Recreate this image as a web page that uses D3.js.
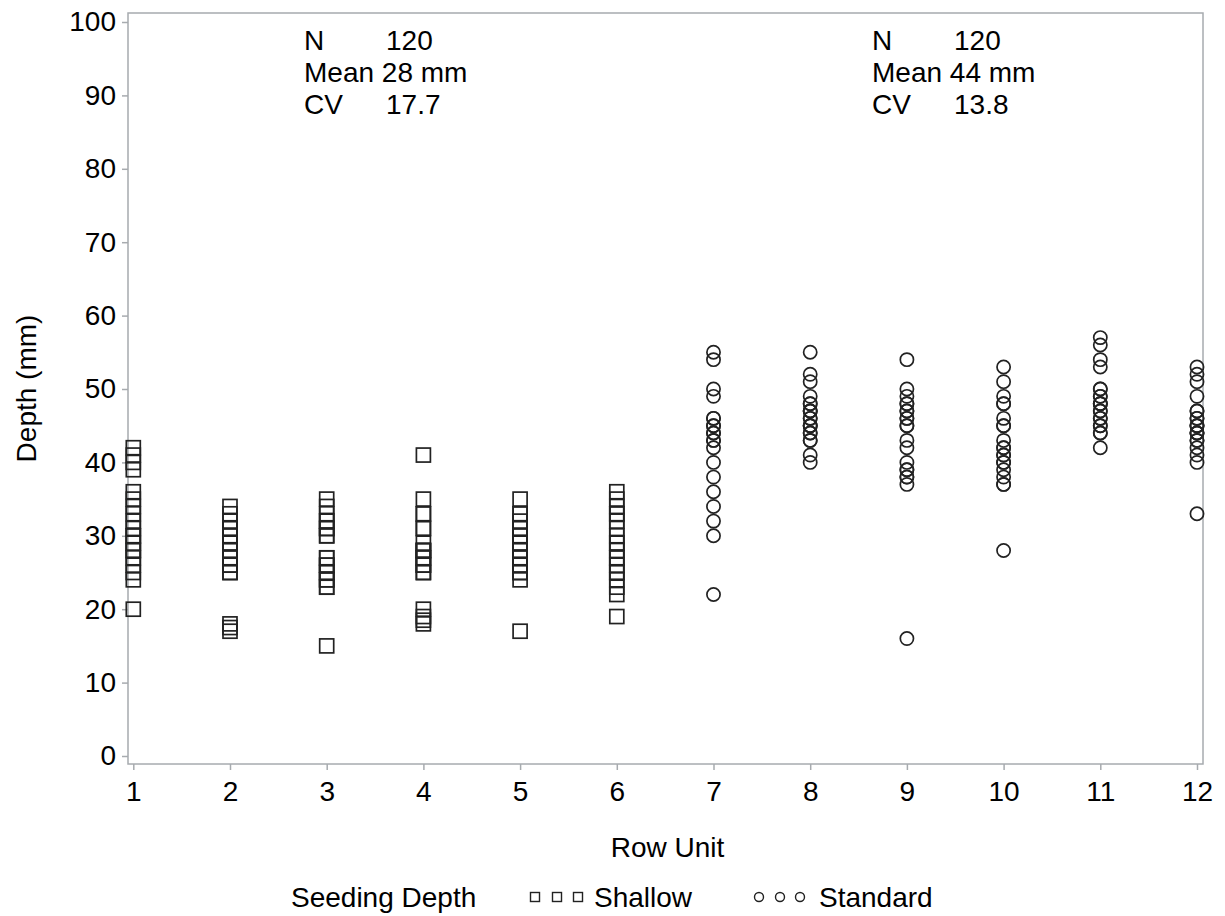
<!DOCTYPE html>
<html>
<head>
<meta charset="utf-8">
<script src="https://cdn.jsdelivr.net/npm/d3@7"></script>
<style>
  html, body { margin: 0; padding: 0; background: #fff; }
  svg { display: block; font-family: "Liberation Sans", Arial, sans-serif; }
</style>
</head>
<body>
<svg id="chart" width="1225" height="916"></svg>
<script>
// Row units on the planter
const rowUnits = [1, 2, 3, 4, 5, 6, 7, 8, 9, 10, 11, 12];
const yTicks = [0, 10, 20, 30, 40, 50, 60, 70, 80, 90, 100];

// Shallow seeding depth (rows 1-6), mm
const shallowRow1 = [42, 41, 40, 39, 36, 35, 34, 33, 32, 31, 30, 30, 29, 28, 28, 27, 26, 25, 24, 20];
const shallowRow2 = [34, 33, 32, 31, 31, 30, 30, 29, 29, 28, 28, 27, 27, 26, 26, 25, 25, 18, 17.5, 17];
const shallowRow3 = [35, 34, 33, 32, 32, 31, 31, 30, 30, 27, 26, 26, 25, 25, 24, 24, 23, 23, 27, 15];
const shallowRow4 = [41, 35, 33, 33, 31, 31, 29, 28, 28, 27, 27, 26, 26, 25, 25, 20, 19, 18.5, 18, 28];
const shallowRow5 = [35, 33, 33, 32, 31, 31, 30, 30, 29, 28, 28, 27, 27, 26, 26, 25, 25, 24, 17, 29];
const shallowRow6 = [36, 35, 34, 33, 33, 32, 31, 30, 29, 29, 28, 27, 27, 26, 25, 25, 24, 23, 22, 19];

// Standard seeding depth (rows 7-12), mm
const standardRow7 = [55, 54, 50, 49, 46, 46, 45, 45, 44, 44, 43, 43, 42, 40, 38, 36, 34, 32, 30, 22];
const standardRow8 = [55, 52, 51, 49, 48, 48, 47, 47, 46, 46, 45, 45, 45, 44, 44, 43, 43, 41, 40, 47];
const standardRow9 = [54, 50, 49, 48, 48, 47, 47, 46, 46, 45, 45, 43, 42, 40, 39, 39, 38, 38, 37, 16];
const standardRow10 = [53, 51, 49, 48, 48, 46, 45, 45, 43, 42, 42, 41, 41, 40, 40, 39, 38, 37, 37, 28];
const standardRow11 = [57, 56, 54, 53, 50, 50, 49, 49, 48, 48, 47, 47, 46, 46, 45, 45, 44, 44, 42, 48];
const standardRow12 = [53, 52, 51, 49, 47, 47, 46, 46, 45, 45, 45, 44, 44, 43, 43, 42, 41, 40, 33, 44];

// Summary statistics per seeding depth
const statLabels = ["N", "Mean", "CV"];
const shallowStats = ["120", "28 mm", "17.7"];
const standardStats = ["120", "44 mm", "13.8"];

const shallowRows = [shallowRow1, shallowRow2, shallowRow3, shallowRow4, shallowRow5, shallowRow6];
const standardRows = [standardRow7, standardRow8, standardRow9, standardRow10, standardRow11, standardRow12];

const shallowPts = [];
shallowRows.forEach((vals, i) => vals.forEach(v => shallowPts.push({ row: rowUnits[i], depth: v })));
const standardPts = [];
standardRows.forEach((vals, i) => vals.forEach(v => standardPts.push({ row: rowUnits[i + 6], depth: v })));

const svg = d3.select("#chart");
const frame = { left: 128, right: 1203, top: 13, bottom: 764 };
const axisColor = "#a7abaf";
const markColor = "#222";
const fontSize = 28;

const x = d3.scaleLinear().domain([1, 12]).range([133.3, 1197]);
const y = d3.scaleLinear().domain([0, 100]).range([756, 22]);

// Plot frame
svg.append("rect")
  .attr("x", frame.left).attr("y", frame.top)
  .attr("width", frame.right - frame.left).attr("height", frame.bottom - frame.top)
  .attr("fill", "none").attr("stroke", axisColor).attr("stroke-width", 1.5);

// Y axis
const yAxis = svg.append("g")
  .attr("transform", `translate(${frame.left},0)`)
  .call(d3.axisLeft(y).tickValues(yTicks).tickSize(6).tickPadding(6).tickSizeOuter(0));
yAxis.select(".domain").remove();
yAxis.selectAll(".tick line").attr("stroke", axisColor).attr("stroke-width", 1.5);
yAxis.selectAll(".tick text").attr("fill", "#000").attr("font-size", fontSize)
  .attr("font-family", "Liberation Sans, Arial, sans-serif");

// X axis
const xAxis = svg.append("g")
  .attr("transform", `translate(0,${frame.bottom})`)
  .call(d3.axisBottom(x).tickValues(rowUnits).tickFormat(d3.format("d")).tickSize(6).tickPadding(11).tickSizeOuter(0));
xAxis.select(".domain").remove();
xAxis.selectAll(".tick line").attr("stroke", axisColor).attr("stroke-width", 1.5);
xAxis.selectAll(".tick text").attr("fill", "#000").attr("font-size", fontSize)
  .attr("font-family", "Liberation Sans, Arial, sans-serif");

// Axis titles
svg.append("text")
  .attr("x", (frame.left + frame.right) / 2 + 2).attr("y", 857)
  .attr("text-anchor", "middle").attr("font-size", fontSize).text("Row Unit");
svg.append("text")
  .attr("transform", `translate(36,${(frame.top + frame.bottom) / 2}) rotate(-90)`)
  .attr("text-anchor", "middle").attr("font-size", fontSize).text("Depth (mm)");

// Shallow: open squares
const sq = 14;
svg.append("g").selectAll("rect").data(shallowPts).join("rect")
  .attr("x", d => x(d.row) - sq / 2).attr("y", d => y(d.depth) - sq / 2)
  .attr("width", sq).attr("height", sq)
  .attr("fill", "none").attr("stroke", markColor).attr("stroke-width", 1.7);

// Standard: open circles
svg.append("g").selectAll("circle").data(standardPts).join("circle")
  .attr("cx", d => x(d.row)).attr("cy", d => y(d.depth)).attr("r", 6.6)
  .attr("fill", "none").attr("stroke", markColor).attr("stroke-width", 1.7);

// Statistics insets
function statBlock(x0, values) {
  const g = svg.append("g").attr("font-size", fontSize);
  statLabels.forEach((lab, i) => {
    const yy = 50 + i * 32;
    if (lab === "Mean") {
      g.append("text").attr("x", x0).attr("y", yy).text(lab + " " + values[i]);
    } else {
      g.append("text").attr("x", x0).attr("y", yy).text(lab);
      g.append("text").attr("x", x0 + 82).attr("y", yy).text(values[i]);
    }
  });
}
statBlock(304, shallowStats);
statBlock(872, standardStats);

// Legend
const legY = 897;
const leg = svg.append("g").attr("font-size", fontSize);
leg.append("text").attr("x", 291).attr("y", legY + 10).text("Seeding Depth");
[535, 557, 578].forEach(cx => {
  leg.append("rect").attr("x", cx - 4.5).attr("y", legY - 4.5).attr("width", 9).attr("height", 9)
    .attr("fill", "none").attr("stroke", markColor).attr("stroke-width", 1.4);
});
leg.append("text").attr("x", 594).attr("y", legY + 10).text("Shallow");
[759, 780, 800].forEach(cx => {
  leg.append("circle").attr("cx", cx).attr("cy", legY).attr("r", 4.5)
    .attr("fill", "none").attr("stroke", markColor).attr("stroke-width", 1.4);
});
leg.append("text").attr("x", 819).attr("y", legY + 10).text("Standard");
</script>
</body>
</html>
